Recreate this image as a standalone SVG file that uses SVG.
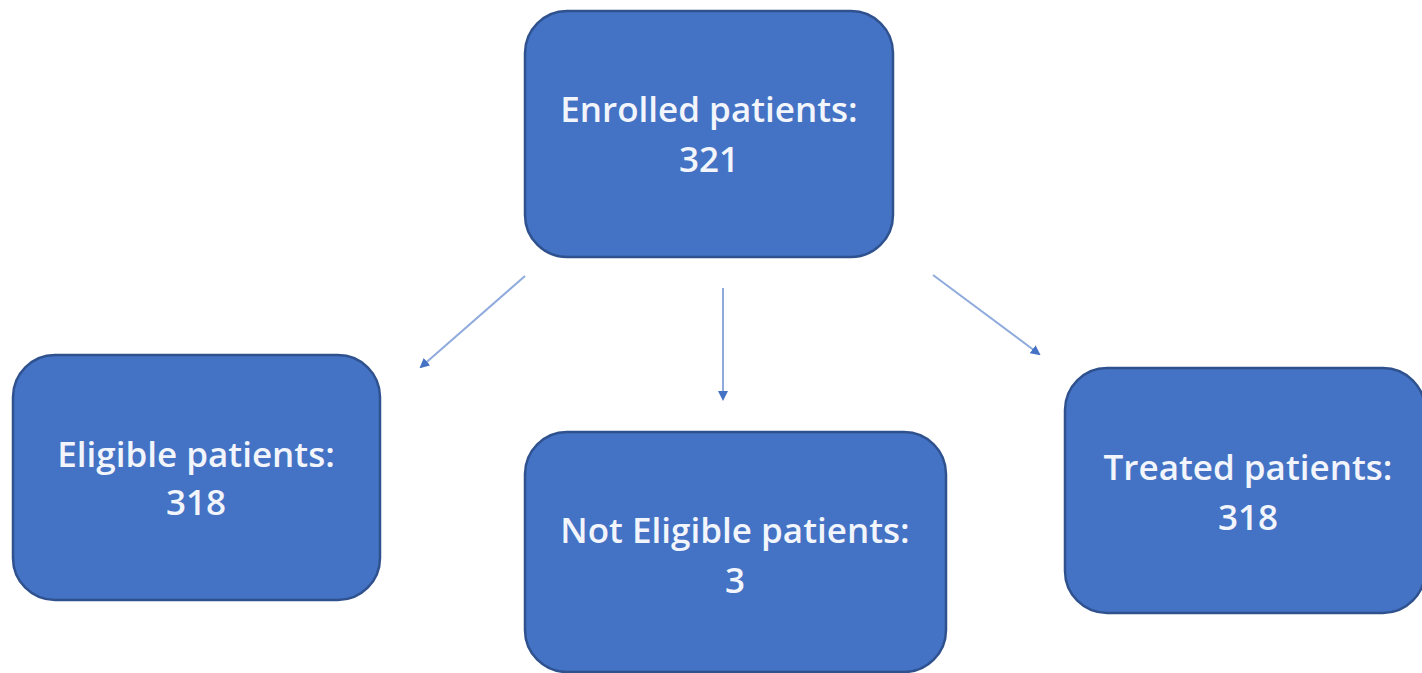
<svg xmlns="http://www.w3.org/2000/svg" width="1422" height="673" viewBox="0 0 1422 673">
<style>
.box{fill:#4472C4;stroke:#2F528F;stroke-width:2.5}
.lbl{font-family:"Open Sans","Liberation Sans",sans-serif;font-size:35px;font-weight:600;fill:#F2F5FB;text-anchor:middle}
.conn{stroke:#8FAADC;stroke-width:2;fill:none;marker-end:url(#ah)}
</style>
<defs>
<marker id="ah" viewBox="0 0 10 10" refX="8" refY="5" markerWidth="5" markerHeight="5" orient="auto" markerUnits="strokeWidth">
<path d="M0,0 L10,5 L0,10 z" fill="#4472C4"/>
</marker>
</defs>
<rect width="1422" height="673" fill="#FFFFFF"/>
<g id="connectors">
<line class="conn" x1="525" y1="276" x2="421" y2="367"/>
<line class="conn" x1="723" y1="288" x2="723" y2="399"/>
<line class="conn" x1="933" y1="275" x2="1039" y2="354"/>
</g>
<g id="enrolled">
<rect class="box" x="525" y="11" width="368" height="246" rx="42"/>
<text class="lbl" x="709" y="122">Enrolled patients:</text>
<text class="lbl" x="709" y="172">321</text>
</g>
<g id="eligible">
<rect class="box" x="13" y="355" width="367" height="245" rx="42"/>
<text class="lbl" x="196" y="467">Eligible patients:</text>
<text class="lbl" x="196" y="515">318</text>
</g>
<g id="not-eligible">
<rect class="box" x="525" y="432" width="421" height="240" rx="42"/>
<text class="lbl" x="735" y="543">Not Eligible patients:</text>
<text class="lbl" x="735" y="593">3</text>
</g>
<g id="treated">
<rect class="box" x="1065" y="368" width="360" height="245" rx="42"/>
<text class="lbl" x="1248" y="480">Treated patients:</text>
<text class="lbl" x="1248" y="530">318</text>
</g>
</svg>
